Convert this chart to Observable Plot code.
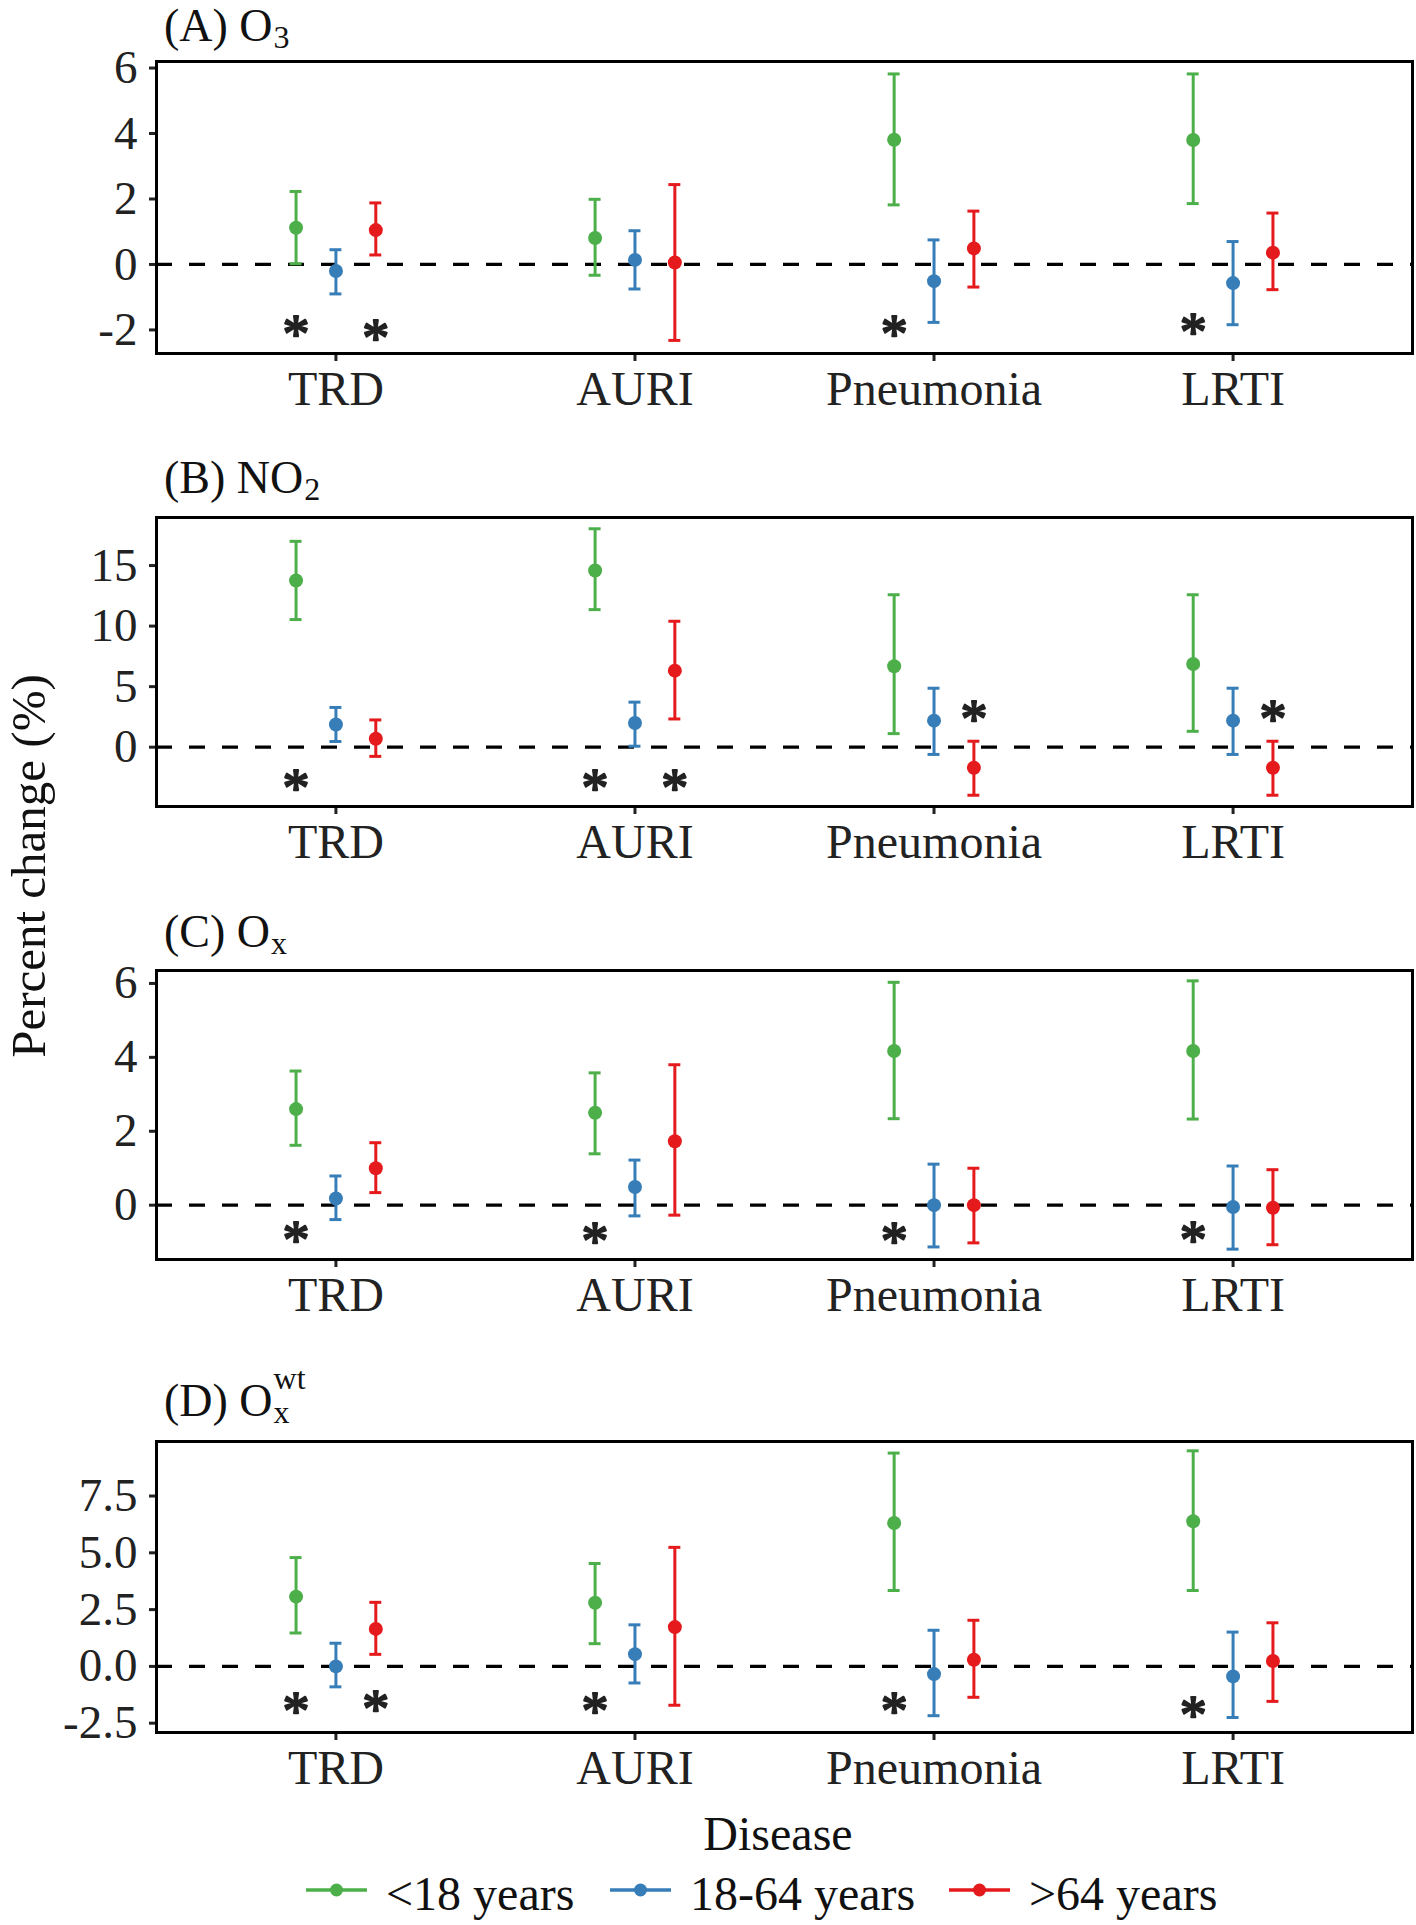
<!DOCTYPE html>
<html><head><meta charset="utf-8">
<script src="https://cdn.jsdelivr.net/npm/d3@7"></script>
<script src="https://cdn.jsdelivr.net/npm/@observablehq/plot@0.6"></script>
<style>
body{margin:0;background:#fff;}
#root{position:relative;width:1416px;height:1925px;background:#fff;font-family:"Liberation Serif","Times New Roman",serif;overflow:hidden;}
</style></head><body><div id="root"></div>
<script>
// ---- data (order within each array: disease-major, then age group) ----
const diseases = ["TRD", "AURI", "Pneumonia", "LRTI"];
const ageGroups = ["<18 years", "18-64 years", ">64 years"];
const groupColors = ["#4DAF4A", "#377EB8", "#E41A1C"];

// (A) O3
const o3Est = [1.12, -0.20, 1.05,  0.81, 0.14, 0.06,  3.81, -0.51, 0.49,  3.80, -0.57, 0.36];
const o3Lo  = [0.02, -0.90, 0.29, -0.33, -0.75, -2.32, 1.82, -1.77, -0.69, 1.86, -1.84, -0.77];
const o3Hi  = [2.23, 0.45, 1.88,  1.99, 1.03, 2.44,  5.82, 0.75, 1.63,  5.82, 0.70, 1.57];
const o3Stars = [["TRD", "<18 years", -1.97], ["TRD", ">64 years", -2.07], ["Pneumonia", "<18 years", -1.96], ["LRTI", "<18 years", -1.90]];

// (B) NO2
const no2Est = [13.77, 1.87, 0.69, 14.59, 2.00, 6.32, 6.68, 2.19, -1.70, 6.87, 2.19, -1.70];
const no2Lo  = [10.54, 0.47, -0.76, 11.36, 0.08, 2.33, 1.12, -0.60, -3.97, 1.31, -0.60, -3.97];
const no2Hi  = [17.00, 3.28, 2.25, 18.04, 3.72, 10.40, 12.59, 4.87, 0.49, 12.59, 4.87, 0.49];
const no2Stars = [["TRD", "<18 years", -2.9], ["AURI", "<18 years", -2.95], ["AURI", ">64 years", -2.9], ["Pneumonia", ">64 years", 2.8], ["LRTI", ">64 years", 2.8]];

// (C) Ox
const oxEst = [2.60, 0.18, 1.00, 2.50, 0.49, 1.73, 4.17, 0.00, 0.00, 4.17, -0.05, -0.07];
const oxLo  = [1.62, -0.39, 0.34, 1.39, -0.29, -0.27, 2.34, -1.13, -1.02, 2.33, -1.19, -1.07];
const oxHi  = [3.63, 0.79, 1.69, 3.58, 1.22, 3.80, 6.03, 1.11, 1.00, 6.07, 1.06, 0.96];
const oxStars = [["TRD", "<18 years", -0.80], ["AURI", "<18 years", -0.82], ["Pneumonia", "<18 years", -0.82], ["LRTI", "<18 years", -0.80]];

// (D) Ox wt
const oxwtEst = [3.07, 0.00, 1.65, 2.80, 0.54, 1.73, 6.31, -0.34, 0.29, 6.39, -0.44, 0.24];
const oxwtLo  = [1.47, -0.90, 0.53, 1.00, -0.73, -1.71, 3.34, -2.17, -1.36, 3.34, -2.25, -1.54];
const oxwtHi  = [4.79, 1.02, 2.82, 4.53, 1.83, 5.24, 9.39, 1.59, 2.03, 9.49, 1.51, 1.92];
const oxwtStars = [["TRD", "<18 years", -1.73], ["TRD", ">64 years", -1.66], ["AURI", "<18 years", -1.73], ["Pneumonia", "<18 years", -1.73], ["LRTI", "<18 years", -1.92]];

// y-axis tick values
const o3Ticks = [-2, 0, 2, 4, 6];
const no2Ticks = [0, 5, 10, 15];
const oxTicks = [0, 2, 4, 6];
const oxwtTicks = [-2.5, 0, 2.5, 5, 7.5];

// ---- layout config ----
const panels = [
  {est: o3Est, lo: o3Lo, hi: o3Hi, stars: o3Stars, ticks: o3Ticks, fmt: d => String(d), domain: [-2.72, 6.2], boxTop: 61, boxBottom: 353,
   title: "(A) O", sub: "3", sup: null, base: 41},
  {est: no2Est, lo: no2Lo, hi: no2Hi, stars: no2Stars, ticks: no2Ticks, fmt: d => String(d), domain: [-4.9, 18.97], boxTop: 517, boxBottom: 806,
   title: "(B) NO", sub: "2", sup: null, base: 493},
  {est: oxEst, lo: oxLo, hi: oxHi, stars: oxStars, ticks: oxTicks, fmt: d => String(d), domain: [-1.47, 6.35], boxTop: 970, boxBottom: 1259,
   title: "(C) O", sub: "x", sup: null, base: 947},
  {est: oxwtEst, lo: oxwtLo, hi: oxwtHi, stars: oxwtStars, ticks: oxwtTicks, fmt: d => d.toFixed(1), domain: [-2.91, 9.9], boxTop: 1441, boxBottom: 1732,
   title: "(D) O", sub: "x", sup: "wt", base: 1416}
];

const root = document.getElementById("root");
const dodge = 0.4 / 3;
const cap = 0.02;
const FONT = "'Liberation Serif', 'Times New Roman', serif";
const xOf = (disease, group) => diseases.indexOf(disease) + 1 + (ageGroups.indexOf(group) - 1) * dodge;

for (const p of panels) {
  const rows = p.est.map((v, i) => ({
    disease: diseases[Math.floor(i / 3)], group: ageGroups[i % 3], est: v, lo: p.lo[i], hi: p.hi[i]
  }));
  rows.forEach(d => d.x = xOf(d.disease, d.group));
  const stars = p.stars.map(([disease, group, y]) => ({x: xOf(disease, group), y}));
  const mt = 12, mb = 72;
  const h = p.boxBottom - p.boxTop + mt + mb;
  const svg = Plot.plot({
    width: 1416, height: h,
    marginTop: mt, marginBottom: mb, marginLeft: 156, marginRight: 4,
    style: {fontFamily: FONT, background: "transparent", overflow: "visible"},
    x: {domain: [0.4, 4.6], axis: null},
    y: {domain: p.domain, axis: null},
    color: {domain: ageGroups, range: groupColors},
    marks: [
      Plot.ruleY([0], {stroke: "black", strokeWidth: 3.2, strokeDasharray: "16,17"}),
      Plot.ruleX(rows, {x: "x", y1: "lo", y2: "hi", stroke: "group", strokeWidth: 3}),
      Plot.ruleY(rows, {y: "lo", x1: d => d.x - cap, x2: d => d.x + cap, stroke: "group", strokeWidth: 3}),
      Plot.ruleY(rows, {y: "hi", x1: d => d.x - cap, x2: d => d.x + cap, stroke: "group", strokeWidth: 3}),
      Plot.dot(rows, {x: "x", y: "est", fill: "group", r: 7}),
      Plot.text(stars, {x: "x", y: "y", text: () => "*", fontSize: 54, dy: 6, fill: "#222", stroke: "#222", strokeWidth: 2}),
      Plot.axisY({ticks: p.ticks, tickFormat: p.fmt, tickSize: 7, tickPadding: 12, fontSize: 47, strokeWidth: 3, stroke: "#222", fill: "#222", label: null}),
      Plot.axisX({ticks: [1, 2, 3, 4], tickFormat: i => diseases[i - 1], tickSize: 8, tickPadding: 9, fontSize: 48, strokeWidth: 3, stroke: "#222", fill: "#222", label: null}),
      Plot.frame({stroke: "black", strokeWidth: 3})
    ]
  });
  svg.style.position = "absolute";
  svg.style.left = "0px";
  svg.style.top = (p.boxTop - mt) + "px";
  root.appendChild(svg);
}

// ---- overlay: panel titles, axis titles, legend ----
const ov = d3.select(root).append("svg")
  .attr("width", 1416).attr("height", 1925)
  .style("position", "absolute").style("left", "0px").style("top", "0px")
  .style("font-family", FONT);

for (const p of panels) {
  const t = ov.append("text").attr("x", 164).attr("y", p.base).attr("font-size", 46).attr("fill", "#111").text(p.title);
  const w = t.node().getComputedTextLength();
  ov.append("text").attr("x", 164 + w + 1).attr("y", p.base + 7).attr("font-size", 32).attr("fill", "#111").text(p.sub);
  if (p.sup) ov.append("text").attr("x", 164 + w + 1).attr("y", p.base - 27).attr("font-size", 32).attr("fill", "#111").text(p.sup);
}

ov.append("text").attr("transform", "translate(45,866) rotate(-90)").attr("text-anchor", "middle")
  .attr("font-size", 49).attr("fill", "#111").text("Percent change (%)");

ov.append("text").attr("x", 778).attr("y", 1850).attr("text-anchor", "middle")
  .attr("font-size", 48).attr("fill", "#111").text("Disease");

const legendX = [306, 610, 949];
ageGroups.forEach((g, i) => {
  const x0 = legendX[i];
  ov.append("line").attr("x1", x0).attr("x2", x0 + 61).attr("y1", 1890).attr("y2", 1890)
    .attr("stroke", groupColors[i]).attr("stroke-width", 3.5);
  ov.append("circle").attr("cx", x0 + 30.5).attr("cy", 1890).attr("r", 6.5).attr("fill", groupColors[i]);
  ov.append("text").attr("x", x0 + 80).attr("y", 1910).attr("font-size", 48).attr("fill", "#111").text(g);
});
</script></body></html>
